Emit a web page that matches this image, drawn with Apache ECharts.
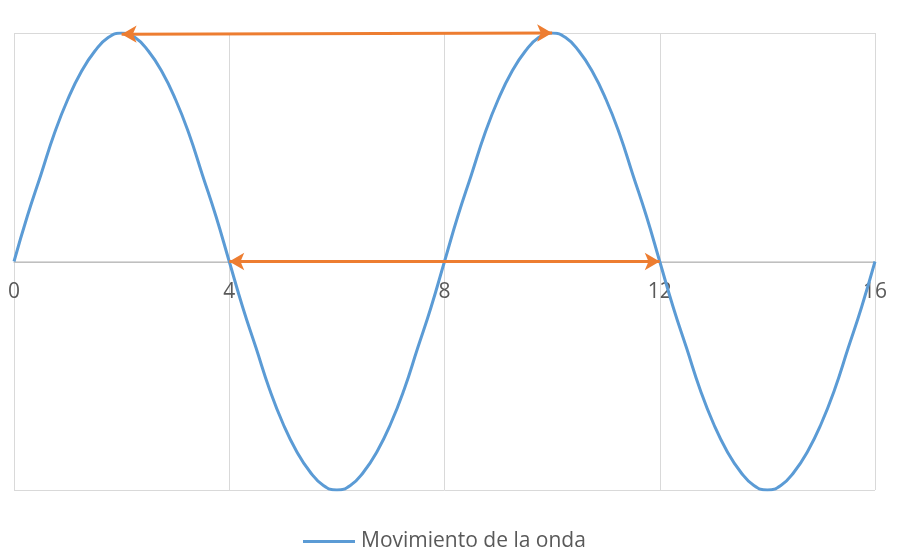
<!DOCTYPE html>
<html>
<head>
<meta charset="utf-8">
<script src="https://cdn.jsdelivr.net/npm/echarts@6/dist/echarts.min.js"></script>
<style>
  html, body {margin: 0; padding: 0; background: #fff;}
  #chart {width: 906px; height: 552px;}
</style>
</head>
<body>
<div id="chart"></div>
<script>
// wave, one point every 0.25 on x (period 8, amplitude 1)
const xValues = [
    0, 0.25, 0.5, 0.75, 1, 1.25, 1.5, 1.75, 2, 2.25, 2.5, 2.75, 3, 3.25, 3.5, 3.75,
    4, 4.25, 4.5, 4.75, 5, 5.25, 5.5, 5.75, 6, 6.25, 6.5, 6.75, 7, 7.25, 7.5, 7.75,
    8, 8.25, 8.5, 8.75, 9, 9.25, 9.5, 9.75, 10, 10.25, 10.5, 10.75, 11, 11.25, 11.5, 11.75,
    12, 12.25, 12.5, 12.75, 13, 13.25, 13.5, 13.75, 14, 14.25, 14.5, 14.75, 15, 15.25, 15.5, 15.75, 16
];
const waveValues = [
    0, 0.2, 0.38, 0.56, 0.71, 0.83, 0.92, 0.98, 1, 0.98, 0.92, 0.83, 0.71, 0.56, 0.38, 0.2,
    0, -0.2, -0.38, -0.56, -0.71, -0.83, -0.92, -0.98, -1, -0.98, -0.92, -0.83, -0.71, -0.56, -0.38, -0.2,
    0, 0.2, 0.38, 0.56, 0.71, 0.83, 0.92, 0.98, 1, 0.98, 0.92, 0.83, 0.71, 0.56, 0.38, 0.2,
    0, -0.2, -0.38, -0.56, -0.71, -0.83, -0.92, -0.98, -1, -0.98, -0.92, -0.83, -0.71, -0.56, -0.38, -0.2, 0
];
const xTicks = [0, 4, 8, 12, 16];
// arrows: crest to crest, node to node
const crestArrow = [[2, 0.995], [10, 1]];
const nodeArrow = [[4, 0], [12, 0]];
const seriesName = 'Movimiento de la onda';

const points = xValues.map((x, i) => [x, waveValues[i]]);
const fontFamily = '"Open Sans", "Noto Sans", sans-serif';

const option = {
    animation: false,
    grid: {left: 14, right: 31, top: 33, bottom: 62},
    legend: {
        top: 526, left: 298,
        icon: 'rect', itemWidth: 52, itemHeight: 3, itemGap: 6,
        textStyle: {fontSize: 21, color: '#595959', fontFamily: fontFamily, padding: [0, 0, 0, 1]},
        data: [seriesName]
    },
    xAxis: {
        type: 'value', min: 0, max: 16, interval: 4,
        // axis sits on y = 0, half the plot height above the bottom edge
        offset: -228,
        axisLine: {onZero: false, lineStyle: {color: '#bfbfbf', width: 1}},
        axisTick: {show: false},
        axisLabel: {
            margin: 20, fontSize: 21, color: '#595959', fontFamily: fontFamily,
            formatter: v => xTicks.includes(v) ? String(v) : ''
        },
        splitLine: {show: true, lineStyle: {color: '#d9d9d9', width: 1}}
    },
    yAxis: {
        type: 'value', min: -1, max: 1, interval: 1,
        axisLine: {show: false, onZero: false},
        axisTick: {show: false},
        axisLabel: {show: false},
        splitLine: {show: true, lineStyle: {color: '#d9d9d9', width: 1}}
    },
    series: [{
        name: seriesName,
        type: 'line',
        smooth: true,
        symbol: 'none',
        lineStyle: {color: '#5b9bd5', width: 3},
        itemStyle: {color: '#5b9bd5'},
        data: points,
        markLine: {
            silent: true,
            symbol: ['arrow', 'arrow'],
            symbolSize: [13, 15],
            label: {show: false},
            lineStyle: {color: '#ed7d31', width: 3, type: 'solid'},
            data: [
                [{coord: crestArrow[0]}, {coord: crestArrow[1]}],
                [{coord: nodeArrow[0]}, {coord: nodeArrow[1]}]
            ]
        }
    }]
};

const myChart = echarts.init(document.getElementById('chart'));
myChart.setOption(option);
</script>
</body>
</html>
